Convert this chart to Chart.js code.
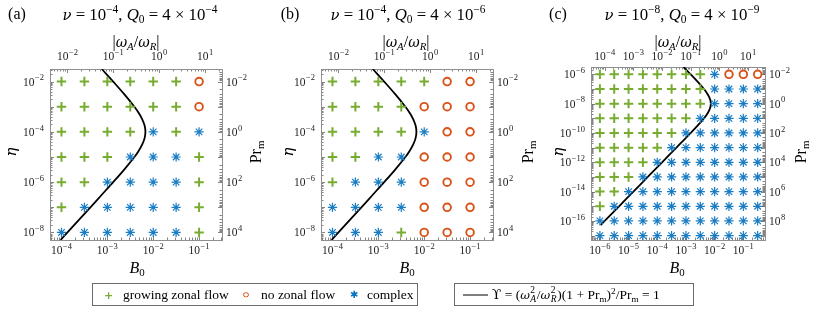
<!DOCTYPE html>
<html>
<head>
<meta charset="utf-8">
<script src="https://cdn.jsdelivr.net/npm/chart.js@4.4.1/dist/chart.umd.min.js"></script>
<style>
body { margin:0; background:#fff; width:822px; height:313px; overflow:hidden; position:relative;
       font-family:"Liberation Serif", "DejaVu Serif", serif; color:#000; }
canvas { position:absolute; left:0; top:0; }
.t { position:absolute; transform:translate(-50%,-50%); white-space:nowrap; line-height:1; }
.rot { transform:translate(-50%,-50%) rotate(-90deg); }
.lab { font-size:16px; }
.ttl { font-size:16.8px; }
.ax { font-size:16px; }
.gr { font-family:"DejaVu Serif", serif; font-style:italic; font-size:0.88em; }
sup, sub { font-size:0.68em; line-height:0; }
sup { vertical-align:0.55em; }
sub { vertical-align:-0.3em; }
.ss { display:inline-block; position:relative; width:7px; height:9px; }
.ss .u, .ss .d { position:absolute; left:0.5px; font-size:9.5px; line-height:1; }
.ss .u { top:-3.5px; }
.ss .d { top:5.5px; font-style:italic; }
.legend { position:absolute; top:283px; height:21px; border:1px solid #6b6b6b; background:#fff; font-size:13.5px; }
.legend .it { position:absolute; top:50%; transform:translateY(-50%); white-space:nowrap; line-height:1; }
</style>
</head>
<body>
<canvas id="pa" width="822" height="313"></canvas>
<canvas id="pb" width="822" height="313"></canvas>
<canvas id="pc" width="822" height="313"></canvas>

<div class="t lab" style="left:17px;top:14px">(a)</div>
<div class="t lab" style="left:290px;top:14px">(b)</div>
<div class="t lab" style="left:558px;top:14px">(c)</div>

<div class="t ttl" style="left:140px;top:15px"><span class="gr">ν</span> = 10<sup>−4</sup>, <i>Q</i><sub>0</sub> = 4 × 10<sup>−4</sup></div>
<div class="t ttl" style="left:408px;top:15px"><span class="gr">ν</span> = 10<sup>−4</sup>, <i>Q</i><sub>0</sub> = 4 × 10<sup>−6</sup></div>
<div class="t ttl" style="left:682px;top:15px"><span class="gr">ν</span> = 10<sup>−8</sup>, <i>Q</i><sub>0</sub> = 4 × 10<sup>−9</sup></div>

<div class="t ax" style="left:136px;top:42px">|<span class="gr">ω</span><sub><i>A</i></sub>/<span class="gr">ω</span><sub><i>R</i></sub>|</div>
<div class="t ax" style="left:406px;top:42px">|<span class="gr">ω</span><sub><i>A</i></sub>/<span class="gr">ω</span><sub><i>R</i></sub>|</div>
<div class="t ax" style="left:678px;top:42px">|<span class="gr">ω</span><sub><i>A</i></sub>/<span class="gr">ω</span><sub><i>R</i></sub>|</div>

<div class="t ax" style="left:137px;top:268px"><i>B</i><sub>0</sub></div>
<div class="t ax" style="left:407px;top:268px"><i>B</i><sub>0</sub></div>
<div class="t ax" style="left:677px;top:268px"><i>B</i><sub>0</sub></div>

<div class="t ax rot" style="left:10px;top:152px;font-size:17px"><span class="gr">η</span></div>
<div class="t ax rot" style="left:287px;top:152px;font-size:17px"><span class="gr">η</span></div>
<div class="t ax rot" style="left:557px;top:152px;font-size:17px"><span class="gr">η</span></div>

<div class="t ax rot" style="left:256px;top:152px">Pr<sub>m</sub></div>
<div class="t ax rot" style="left:528px;top:152px">Pr<sub>m</sub></div>
<div class="t ax rot" style="left:801px;top:152px">Pr<sub>m</sub></div>

<div class="legend" style="left:92px;width:324px">
  <span class="it" style="left:11px;color:#77AC30;font-weight:bold;font-size:11px;font-family:'DejaVu Sans'">+</span>
  <span class="it" style="left:30px">growing zonal flow</span>
  <span class="it" style="left:150px;width:3.5px;height:3.5px;border:1.4px solid #D95319;border-radius:50%"></span>
  <span class="it" style="left:168px">no zonal flow</span>
  <span class="it" style="left:257px;color:#0072BD;font-size:10px;font-family:'DejaVu Sans'">✱</span>
  <span class="it" style="left:274px">complex</span>
</div>
<div class="legend" style="left:454px;width:238px">
  <span class="it" style="left:8px;width:25px;height:0;border-top:1.8px solid #000"></span>
  <span class="it" style="left:37px"><span style="font-family:'DejaVu Serif'">ϒ</span> = (<span class="gr">ω</span><span class="ss"><span class="u">2</span><span class="d">A</span></span>/<span class="gr">ω</span><span class="ss"><span class="u">2</span><span class="d">R</span></span>)(1 + Pr<sub>m</sub>)<sup>2</sup>/Pr<sub>m</sub> = 1</span>
</div>

<script>
// grid of runs: B0 columns, eta rows (top row = largest eta)
var B0_AB  = [1e-4, 3.16e-4, 1e-3, 3.16e-3, 1e-2, 3.16e-2, 1e-1];
var ETA_AB = [1e-2, 1e-3, 1e-4, 1e-5, 1e-6, 1e-7, 1e-8];
var B0_C   = [1e-6, 3.16e-6, 1e-5, 3.16e-5, 1e-4, 3.16e-4, 1e-3, 3.16e-3, 1e-2, 3.16e-2, 1e-1, 3.16e-1];
var ETA_C  = [1e-6, 1e-7, 1e-8, 1e-9, 1e-10, 1e-11, 1e-12, 1e-13, 1e-14, 1e-15, 1e-16, 1e-17];

// g = growing zonal flow, n = no zonal flow, c = complex
var FLOW_A = ['ggggggn', 'ggggggn', 'ggggcgc', 'gggcccg', 'ggccccg', 'gcccccg', 'ccccccg'];
var FLOW_B = ['gggggnn', 'ggggnnn', 'ggggcnn', 'ggccnnn', 'gcccnnn', 'ccccnnn', 'cccgnnn'];
var FLOW_C = ['ggggggggcnnn', 'ggggggggcccc', 'ggggggggcccc', 'gggggggccccc',
              'ggggggcccccc', 'gggggccccccc', 'ggggcccccccc', 'gggccccccccc',
              'ggcccccccccc', 'gccccccccccc', 'cccccccccccc', 'cccccccccccc'];

// Upsilon = 1 curve
var CURVE_ETA_AB = [3.16e-2, 1e-2, 3.16e-3, 1e-3, 5.62e-4, 3.16e-4, 1.78e-4, 1e-4, 5.62e-5, 3.16e-5,
                    1.78e-5, 1e-5, 3.16e-6, 1e-6, 3.16e-7, 1e-7, 3.16e-8, 1e-8, 5.01e-9];
var CURVE_B0_AB  = [7.57e-4, 1.34e-3, 2.33e-3, 3.89e-3, 4.84e-3, 5.77e-3, 6.49e-3, 6.76e-3, 6.49e-3, 5.77e-3,
                    4.84e-3, 3.89e-3, 2.33e-3, 1.34e-3, 7.57e-4, 4.27e-4, 2.40e-4, 1.35e-4, 9.57e-5];
var CURVE_ETA_C  = [3.16e-6, 1e-6, 3.16e-7, 1e-7, 5.62e-8, 3.16e-8, 1.78e-8, 1e-8, 5.62e-9, 3.16e-9, 1.78e-9,
                    1e-9, 3.16e-10, 1e-10, 3.16e-11, 1e-11, 1e-12, 1e-13, 1e-14, 1e-15, 1e-16, 5.25e-17];
var CURVE_B0_C   = [8.24e-4, 1.46e-3, 2.54e-3, 4.23e-3, 5.27e-3, 6.28e-3, 7.06e-3, 7.35e-3, 7.06e-3, 6.28e-3, 5.27e-3,
                    4.23e-3, 2.54e-3, 1.46e-3, 8.24e-4, 4.65e-4, 1.47e-4, 4.65e-5, 1.47e-5, 4.65e-6, 1.47e-6, 1.07e-6];

var NU       = [1e-4, 1e-4, 1e-8];   // Prm = nu / eta
var W_PER_B0 = [74, 74, 68];         // |wA/wR| per unit B0 (top axis)

// tick labels
var TICK_B0_AB  = [1e-4, 1e-3, 1e-2, 1e-1];
var TICK_W_AB   = [1e-2, 1e-1, 1, 10];
var TICK_ETA_AB = [1e-2, 1e-4, 1e-6, 1e-8];
var TICK_PRM_AB = [1e-2, 1, 1e2, 1e4];
var TICK_B0_C   = [1e-6, 1e-5, 1e-4, 1e-3, 1e-2, 1e-1];
var TICK_W_C    = [1e-4, 1e-3, 1e-2, 1e-1, 1, 10];
var TICK_ETA_C  = [1e-6, 1e-8, 1e-10, 1e-12, 1e-14, 1e-16];
var TICK_PRM_C  = [1e-2, 1, 1e2, 1e4, 1e6, 1e8];

var FONT = '"Liberation Serif", "DejaVu Serif", serif';

function drawPow(ctx, v, x, y, align) {
    var ex = Math.round(Math.log10(v));
    var sup = ex < 0 ? '\u2212' + (-ex) : String(ex);
    ctx.font = '11.5px ' + FONT;
    var wb = ctx.measureText('10').width;
    ctx.font = '8.5px ' + FONT;
    var ws = ctx.measureText(sup).width;
    var w = wb + ws + 0.5;
    var x0 = align === 'center' ? x - w / 2 : (align === 'right' ? x - w : x);
    ctx.textAlign = 'left';
    ctx.textBaseline = 'middle';
    ctx.font = '11.5px ' + FONT;
    ctx.fillText('10', x0, y);
    ctx.font = '8.5px ' + FONT;
    ctx.fillText(sup, x0 + wb + 0.5, y - 4.5);
}

function drawLogTicks(ctx, scale, side, a) {
    var lo = Math.min(scale.min, scale.max), hi = Math.max(scale.min, scale.max);
    var e0 = Math.floor(Math.log10(lo)), e1 = Math.ceil(Math.log10(hi));
    ctx.beginPath();
    for (var e = e0; e <= e1; e++) {
        for (var m = 1; m < 10; m++) {
            var v = m * Math.pow(10, e);
            if (v < lo || v > hi) continue;
            var p = Math.round(scale.getPixelForValue(v)) + 0.5;
            var len = m === 1 ? 4 : 2.5;
            if (side === 'bottom') { ctx.moveTo(p, a.bottom); ctx.lineTo(p, a.bottom - len); }
            if (side === 'top')    { ctx.moveTo(p, a.top);    ctx.lineTo(p, a.top + len); }
            if (side === 'left')   { ctx.moveTo(a.left, p);   ctx.lineTo(a.left + len, p); }
            if (side === 'right')  { ctx.moveTo(a.right, p);  ctx.lineTo(a.right - len, p); }
        }
    }
    ctx.stroke();
}

var axisDeco = {
    id: 'axisDeco',
    beforeDatasetsDraw: function(chart) {
        var ctx = chart.ctx, a = chart.chartArea;
        ctx.save();
        ctx.strokeStyle = '#666';
        ctx.lineWidth = 0.8;
        drawLogTicks(ctx, chart.scales.x, 'bottom', a);
        drawLogTicks(ctx, chart.scales.x2, 'top', a);
        drawLogTicks(ctx, chart.scales.y, 'left', a);
        drawLogTicks(ctx, chart.scales.y2, 'right', a);
        ctx.strokeStyle = '#8f8f8f';
        ctx.lineWidth = 1;
        ctx.strokeRect(Math.round(a.left) + 0.5, Math.round(a.top) + 0.5,
                       Math.round(a.right - a.left), Math.round(a.bottom - a.top));
        ctx.restore();
    },
    afterDraw: function(chart, args, opts) {
        var ctx = chart.ctx, a = chart.chartArea, s = chart.scales;
        ctx.save();
        ctx.fillStyle = '#222';
        opts.bottom.forEach(function(v) { drawPow(ctx, v, s.x.getPixelForValue(v), 251, 'center'); });
        opts.top.forEach(function(v) { drawPow(ctx, v, s.x2.getPixelForValue(v), 57, 'center'); });
        opts.left.forEach(function(v) { drawPow(ctx, v, a.left - 6, s.y.getPixelForValue(v) + 1, 'right'); });
        opts.right.forEach(function(v) { drawPow(ctx, v, a.right + 4, s.y2.getPixelForValue(v) + 1, 'left'); });
        ctx.restore();
    }
};

function makePanel(id, i, b0, eta, flow, cB0, cEta, xr, yr, box, ticks) {
    var grow = [], none = [], cplx = [];
    flow.forEach(function(row, r) {
        row.split('').forEach(function(ch, c) {
            var pt = { x: b0[c], y: eta[r] };
            if (ch === 'g') grow.push(pt);
            else if (ch === 'n') none.push(pt);
            else cplx.push(pt);
        });
    });
    var curve = cB0.map(function(b, j) { return { x: b, y: cEta[j] }; });

    new Chart(document.getElementById(id), {
        type: 'scatter',
        data: {
            datasets: [
                { data: grow, pointStyle: 'cross', pointRadius: 4.7, pointBorderColor: '#77AC30', pointBorderWidth: 2 },
                { data: none, pointStyle: 'circle', pointRadius: 3.8, pointBorderColor: '#D95319',
                  pointBackgroundColor: 'rgba(0,0,0,0)', pointBorderWidth: 1.9 },
                { data: cplx, pointStyle: 'star', pointRadius: 4.6, pointBorderColor: '#1a7dc4', pointBorderWidth: 1.2 },
                { data: curve, showLine: true, pointRadius: 0, borderColor: '#000', borderWidth: 1.8, tension: 0.35 }
            ]
        },
        options: {
            responsive: false,
            animation: false,
            events: [],
            layout: { padding: { left: box[0], top: box[1], right: 822 - box[2], bottom: 313 - box[3] } },
            plugins: {
                legend: { display: false },
                tooltip: { enabled: false },
                axisDeco: ticks
            },
            scales: {
                x:  { type: 'logarithmic', display: false, min: xr[0], max: xr[1] },
                y:  { type: 'logarithmic', display: false, min: yr[0], max: yr[1] },
                x2: { type: 'logarithmic', display: false, position: 'top',
                      min: xr[0] * W_PER_B0[i], max: xr[1] * W_PER_B0[i] },
                y2: { type: 'logarithmic', display: false, position: 'right', reverse: true,
                      min: NU[i] / yr[1], max: NU[i] / yr[0] }
            }
        },
        plugins: [axisDeco]
    });
}

makePanel('pa', 0, B0_AB, ETA_AB, FLOW_A, CURVE_B0_AB, CURVE_ETA_AB,
          [5.62e-5, 0.316], [5.01e-9, 3.16e-2], [50, 69, 222, 240],
          { bottom: TICK_B0_AB, top: TICK_W_AB, left: TICK_ETA_AB, right: TICK_PRM_AB });
makePanel('pb', 1, B0_AB, ETA_AB, FLOW_B, CURVE_B0_AB, CURVE_ETA_AB,
          [5.62e-5, 0.316], [5.01e-9, 3.16e-2], [321, 69, 493, 240],
          { bottom: TICK_B0_AB, top: TICK_W_AB, left: TICK_ETA_AB, right: TICK_PRM_AB });
makePanel('pc', 2, B0_C, ETA_C, FLOW_C, CURVE_B0_C, CURVE_ETA_C,
          [4.9e-7, 0.569], [5.01e-18, 3.16e-6], [591, 67, 765, 240],
          { bottom: TICK_B0_C, top: TICK_W_C, left: TICK_ETA_C, right: TICK_PRM_C });
</script>
</body>
</html>
